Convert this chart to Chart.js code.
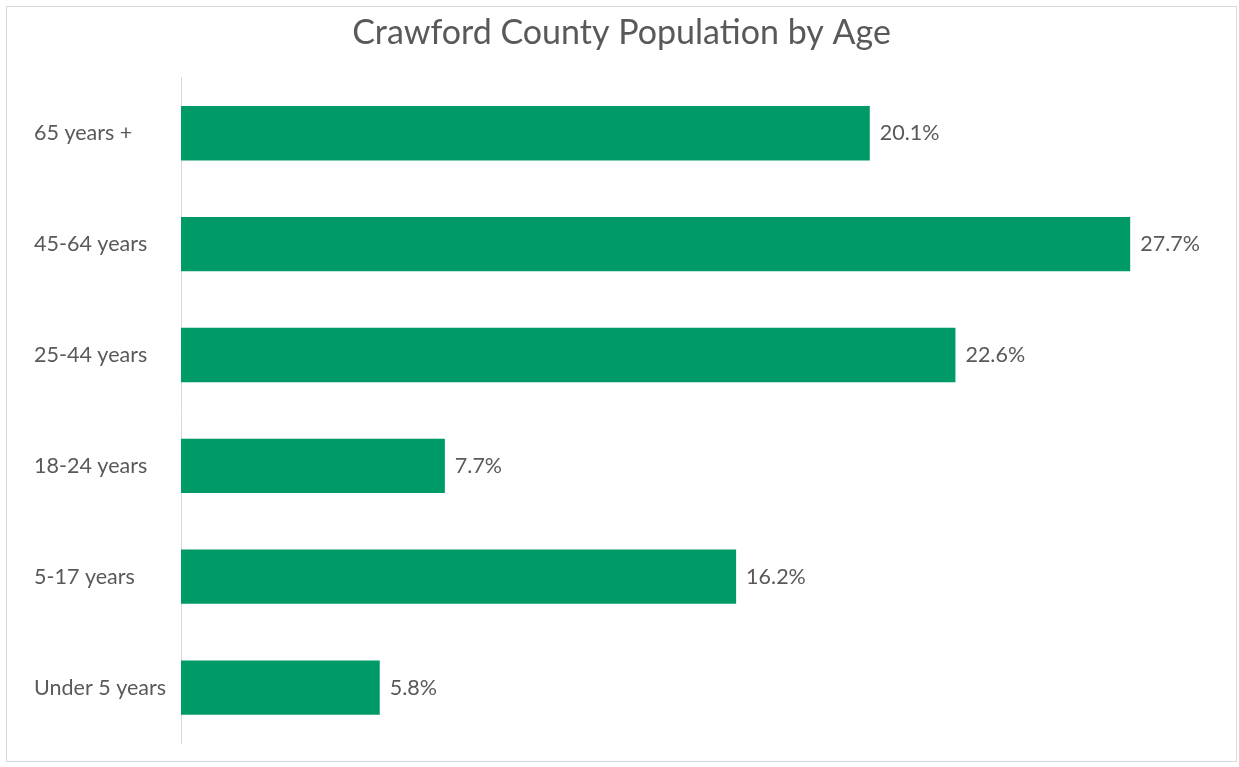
<!DOCTYPE html>
<html lang="en">
<head>
    <meta charset="UTF-8">
    <title>Crawford County Population by Age</title>
    <script src="https://cdn.jsdelivr.net/npm/chart.js"></script>
    <style>
        body {
            margin: 0;
            background: #ffffff;
        }
        .frame {
            position: absolute;
            left: 6px;
            top: 6px;
            width: 1229px;
            height: 754px;
            border: 1px solid #d9d9d9;
        }
        canvas {
            display: block;
        }
    </style>
</head>
<body>
    <div class="frame">
        <canvas id="ageChart" width="1229" height="754"></canvas>
    </div>

    <script>
        const ageGroups = ['65 years +', '45-64 years', '25-44 years', '18-24 years', '5-17 years', 'Under 5 years'];
        const sharePct = [20.1, 27.7, 22.6, 7.7, 16.2, 5.8];

        const textGrey = '#595959';
        const fontName = 'Lato, "Open Sans", sans-serif';

        // writes the percentage just past the end of each bar
        const valueLabels = {
            id: 'valueLabels',
            afterDatasetsDraw(chart) {
                const ctx = chart.ctx;
                const meta = chart.getDatasetMeta(0);
                ctx.save();
                ctx.font = '21.5px ' + fontName;
                ctx.fillStyle = textGrey;
                ctx.textAlign = 'left';
                ctx.textBaseline = 'middle';
                meta.data.forEach((bar, i) => {
                    ctx.fillText(sharePct[i].toFixed(1) + '%', bar.x + 10, bar.y);
                });
                ctx.restore();
            }
        };

        new Chart(document.getElementById('ageChart'), {
            type: 'bar',
            data: {
                labels: ageGroups,
                datasets: [{
                    data: sharePct,
                    backgroundColor: '#009968',
                    borderWidth: 0,
                    barPercentage: 0.49,
                    categoryPercentage: 1
                }]
            },
            options: {
                indexAxis: 'y',
                responsive: false,
                animation: false,
                layout: {
                    padding: { left: 27, right: 27, top: 0, bottom: 18 }
                },
                plugins: {
                    legend: { display: false },
                    tooltip: { enabled: false },
                    title: {
                        display: true,
                        text: 'Crawford County Population by Age',
                        color: textGrey,
                        font: { family: fontName, size: 34, weight: 'normal' },
                        padding: { top: 6, bottom: 24 }
                    }
                },
                scales: {
                    x: {
                        display: false,
                        min: 0,
                        max: 30
                    },
                    y: {
                        afterFit(scale) { scale.width = 147; },
                        grid: { display: false },
                        border: { display: true, color: '#d9d9d9', width: 1 },
                        ticks: {
                            crossAlign: 'far',
                            color: textGrey,
                            font: { family: fontName, size: 21.5 }
                        }
                    }
                }
            },
            plugins: [valueLabels]
        });
    </script>
</body>
</html>
